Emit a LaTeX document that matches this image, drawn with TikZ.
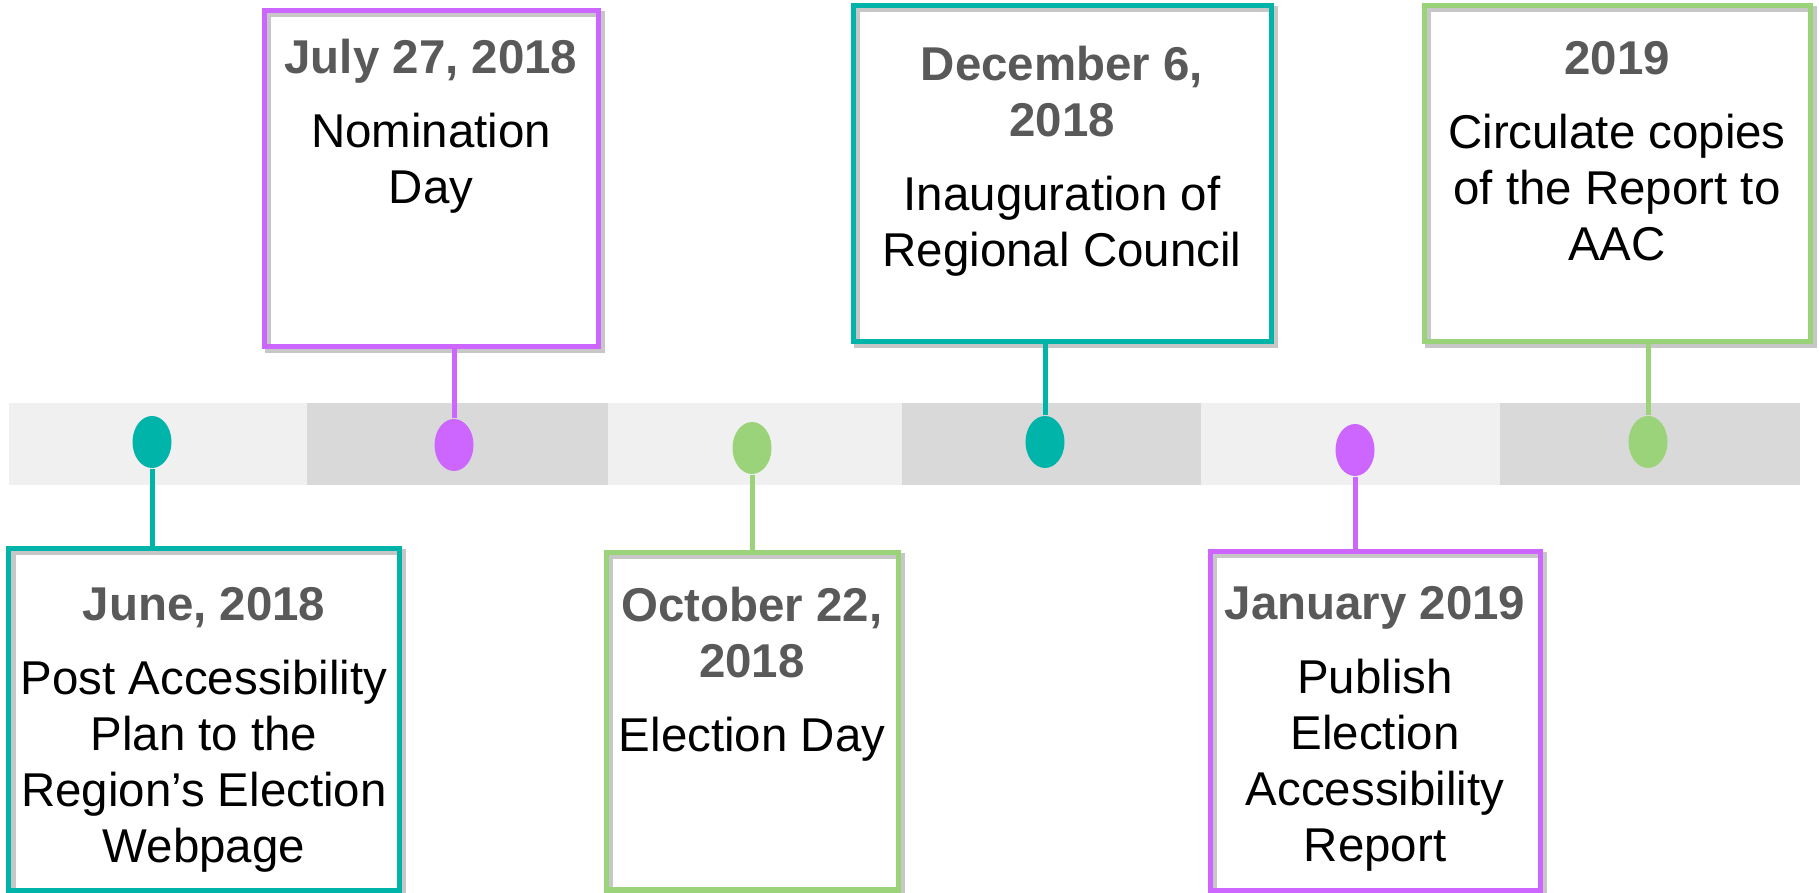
\documentclass[tikz,border=0pt]{standalone}
\usepackage{fontspec}
\setmainfont{Liberation Sans}
\usetikzlibrary{positioning,shapes.geometric}

\definecolor{cTeal}{RGB}{0,180,170}
\definecolor{cViolet}{RGB}{204,102,255}
\definecolor{cLeaf}{RGB}{155,211,122}
\definecolor{cDate}{RGB}{89,89,89}
\definecolor{cBandA}{RGB}{240,240,240}
\definecolor{cBandB}{RGB}{217,217,217}

\tikzset{
    card/.style={rectangle, draw=#1, line width=0.05cm, inner sep=0pt, outer sep=0pt, anchor=north west,
        preaction={draw=black!22, line width=0.06cm, transform canvas={xshift=0.035cm, yshift=-0.035cm}}},
    cardtext/.style={align=center, inner sep=0pt, font=\fontsize{13.5}{15.93}\selectfont},
    dot/.style={ellipse, fill=#1, inner sep=0pt, minimum width=0.39cm, minimum height=0.52cm},
    stem/.style={draw=#1, line width=0.05cm},
}
\newcommand\when[1]{{\bfseries\color{cDate}#1}}

\begin{document}
\begin{tikzpicture}
    \useasboundingbox (0,0) rectangle (18.19,-8.93);

    \foreach \a/\b/\c in {0.09/3.07/cBandA, 3.07/6.08/cBandB, 6.08/9.02/cBandA,
                          9.02/12.01/cBandB, 12.01/15.00/cBandA, 15.00/18.00/cBandB}
        \fill[\c] (\a,-4.03) rectangle (\b,-4.85);

    \node[card=cTeal,   minimum width=3.90cm, minimum height=3.41cm] (june)     at (0.09,-5.49) {};
    \node[card=cViolet, minimum width=3.34cm, minimum height=3.36cm] (july)     at (2.64,-0.11) {};
    \node[card=cLeaf,   minimum width=2.92cm, minimum height=3.37cm] (october)  at (6.06,-5.53) {};
    \node[card=cTeal,   minimum width=4.18cm, minimum height=3.36cm] (december) at (8.53,-0.06) {};
    \node[card=cViolet, minimum width=3.30cm, minimum height=3.38cm] (january)  at (12.10,-5.52) {};
    \node[card=cLeaf,   minimum width=3.86cm, minimum height=3.36cm] (later)    at (14.24,-0.06) {};

    \node[dot=cTeal]   (d1) at (1.52,-4.42) {};
    \node[dot=cViolet] (d2) at (4.54,-4.45) {};
    \node[dot=cLeaf]   (d3) at (7.52,-4.48) {};
    \node[dot=cTeal]   (d4) at (10.45,-4.42) {};
    \node[dot=cViolet] (d5) at (13.55,-4.50) {};
    \node[dot=cLeaf]   (d6) at (16.48,-4.42) {};

    \draw[stem=cTeal]   (d1) -- (d1 |- june.north);
    \draw[stem=cViolet] (d2) -- (d2 |- july.south);
    \draw[stem=cLeaf]   (d3) -- (d3 |- october.north);
    \draw[stem=cTeal]   (d4) -- (d4 |- december.south);
    \draw[stem=cViolet] (d5) -- (d5 |- january.north);
    \draw[stem=cLeaf]   (d6) -- (d6 |- later.south);

    \node[cardtext, below=0.38cm of june.north] (junetext)
        {\when{June, 2018}\\[0.18cm]Post Accessibility\\Plan to the\\Region’s Election\\Webpage};
    \node[cardtext, below=0.27cm of july.north] (julytext)
        {\when{July 27, 2018}\\[0.18cm]Nomination\\Day};
    \node[cardtext, below=0.33cm of october.north] (octobertext)
        {\when{October 22,}\\\when{2018}\\[0.18cm]Election Day};
    \node[cardtext, below=0.39cm of december.north] (decembertext)
        {\when{December 6,}\\\when{2018}\\[0.18cm]Inauguration of\\Regional Council};
    \node[cardtext, below=0.34cm of january.north] (januarytext)
        {\when{January 2019}\\[0.18cm]Publish\\Election\\Accessibility\\Report};
    \node[cardtext, below=0.35cm of later.north] (latertext)
        {\when{2019}\\[0.18cm]Circulate copies\\of the Report to\\AAC};
\end{tikzpicture}
\end{document}
